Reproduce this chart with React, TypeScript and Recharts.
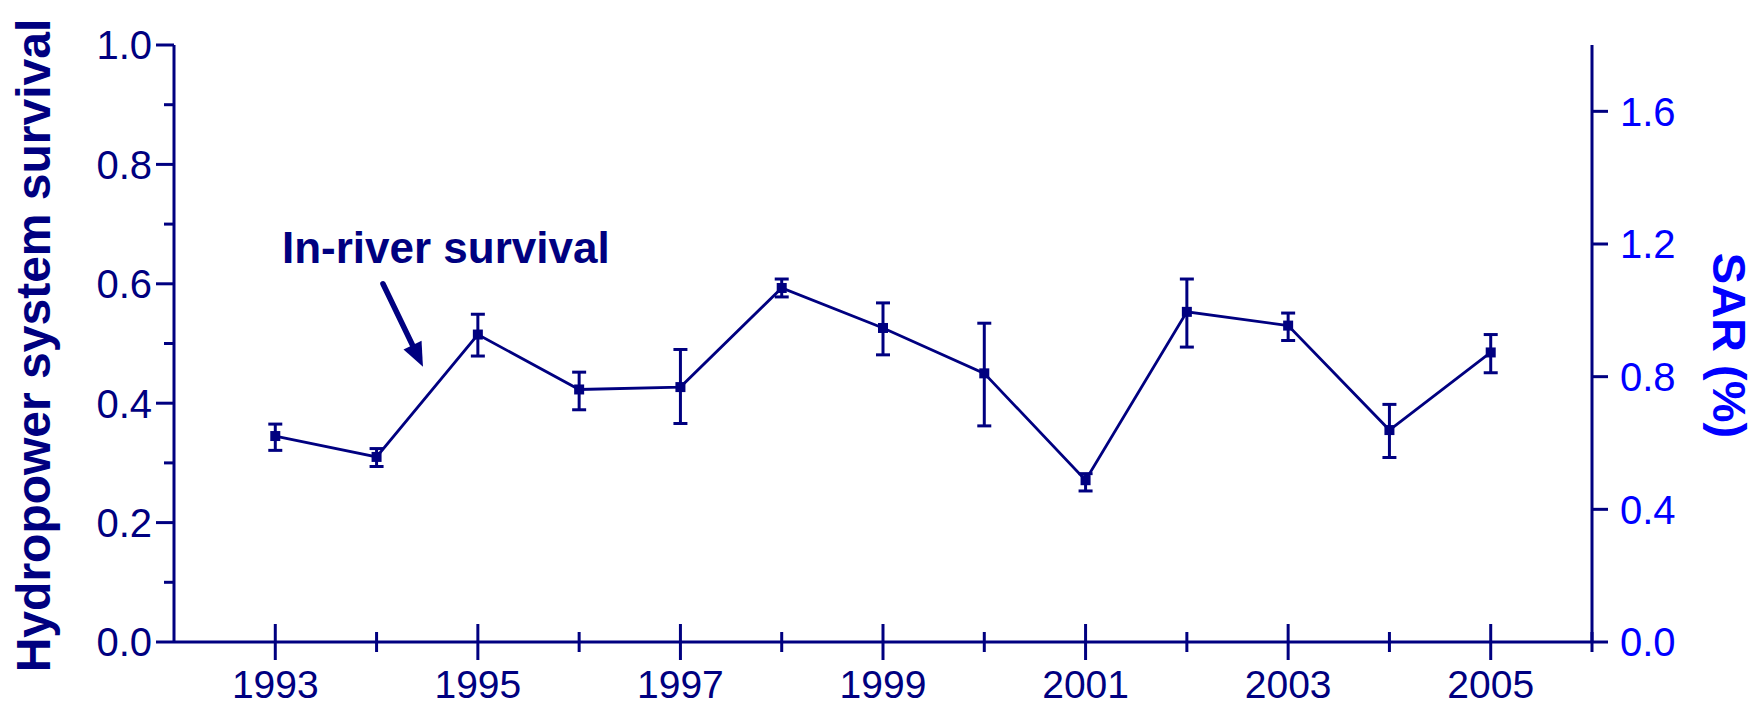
import React from 'react';
import {
  LineChart,
  Line,
  XAxis,
  YAxis,
  ErrorBar,
  ReferenceLine,
  ReferenceDot,
  Label,
} from 'recharts';

const years = [1993, 1994, 1995, 1996, 1997, 1998, 1999, 2000, 2001, 2002, 2003, 2004, 2005];
const survival = [0.345, 0.31, 0.515, 0.423, 0.427, 0.593, 0.526, 0.45, 0.271, 0.553, 0.53, 0.355, 0.485];
const survivalLow = [0.321, 0.294, 0.479, 0.389, 0.366, 0.578, 0.481, 0.362, 0.253, 0.494, 0.505, 0.309, 0.451];
const survivalHigh = [0.365, 0.324, 0.549, 0.452, 0.49, 0.608, 0.568, 0.534, 0.282, 0.608, 0.551, 0.398, 0.515];

const xTicks = [1993, 1994, 1995, 1996, 1997, 1998, 1999, 2000, 2001, 2002, 2003, 2004, 2005, 2006];
const leftTicks = [0, 0.1, 0.2, 0.3, 0.4, 0.5, 0.6, 0.7, 0.8, 0.9, 1.0];
const rightTicks = [0, 0.4, 0.8, 1.2, 1.6];

const annotationText = 'In-river survival';
const annotationPos = { x: 1993.066, y: 0.635 };
const arrowFrom = { x: 1994.063, y: 0.6 };
const arrowTo = { x: 1994.458, y: 0.461 };

const NAVY = '#000080';
const BLUE = '#0000FF';
const FONT = '"Liberation Sans", Arial, Helvetica, sans-serif';

const data = years.map((year, i) => ({
  year,
  survival: survival[i],
  err: [survival[i] - survivalLow[i], survivalHigh[i] - survival[i]],
}));

const XTick = (props: any) => {
  const { x, y, payload } = props;
  const v = payload.value;
  const major = v % 2 === 1;
  const len = major ? 18 : 10;
  return (
    <g>
      <line x1={x} x2={x} y1={y - len} y2={y + len} stroke={NAVY} strokeWidth={3} />
      {major && v <= 2005 ? (
        <text x={x} y={y + 56} textAnchor="middle" fill={NAVY} fontSize={39} fontFamily={FONT}>
          {v}
        </text>
      ) : null}
    </g>
  );
};

const LeftTick = (props: any) => {
  const { x, y, payload } = props;
  const v = payload.value;
  const major = Math.round(v * 10) % 2 === 0;
  const len = major ? 18 : 10;
  return (
    <g>
      <line x1={x - len} x2={x} y1={y} y2={y} stroke={NAVY} strokeWidth={3} />
      {major ? (
        <text x={x - 22} y={y} dy="0.36em" textAnchor="end" fill={NAVY} fontSize={40} fontFamily={FONT}>
          {v.toFixed(1)}
        </text>
      ) : null}
    </g>
  );
};

const RightTick = (props: any) => {
  const { x, y, payload } = props;
  const v = payload.value;
  return (
    <g>
      <line x1={x} x2={x + 16} y1={y} y2={y} stroke={NAVY} strokeWidth={3} />
      <text x={x + 28} y={y} dy="0.36em" textAnchor="start" fill={BLUE} fontSize={40} fontFamily={FONT}>
        {v.toFixed(1)}
      </text>
    </g>
  );
};

const SquareDot = (props: any) => {
  const { cx, cy } = props;
  if (cx == null || cy == null) return null;
  return <rect x={cx - 5} y={cy - 5} width={10} height={10} fill={NAVY} />;
};

const ArrowShape = (props: any) => {
  const { x1, y1, x2, y2 } = props;
  if ([x1, y1, x2, y2].some((v) => v == null || isNaN(v))) return null;
  const dx = x2 - x1;
  const dy = y2 - y1;
  const L = Math.sqrt(dx * dx + dy * dy);
  const ux = dx / L;
  const uy = dy / L;
  const headLen = 24;
  const headHalf = 10;
  const bx = x2 - ux * headLen;
  const by = y2 - uy * headLen;
  const px = -uy;
  const py = ux;
  return (
    <g>
      <line x1={x1} y1={y1} x2={bx + ux * 2} y2={by + uy * 2} stroke={NAVY} strokeWidth={5.5} strokeLinecap="round" />
      <polygon
        points={`${x2},${y2} ${bx + px * headHalf},${by + py * headHalf} ${bx - px * headHalf},${by - py * headHalf}`}
        fill={NAVY}
      />
    </g>
  );
};

const AnnotationShape = (props: any) => {
  const { cx, cy } = props;
  if (cx == null || cy == null) return null;
  return (
    <text x={cx} y={cy} fill={NAVY} fontSize={44} fontWeight="bold" fontFamily={FONT}>
      {annotationText}
    </text>
  );
};

const LeftTitle = (props: any) => {
  const vb = props.viewBox || { x: 0, y: 45, width: 174, height: 597 };
  const cx = vb.x + 33;
  const cy = vb.y + vb.height / 2 + 2;
  return (
    <text
      x={cx}
      y={cy}
      transform={`rotate(-90, ${cx}, ${cy})`}
      textAnchor="middle"
      dy="0.36em"
      fill={NAVY}
      fontSize={48}
      fontWeight="bold"
      fontFamily={FONT}
    >
      Hydropower system survival
    </text>
  );
};

const RightTitle = (props: any) => {
  const vb = props.viewBox || { x: 1592, y: 45, width: 167, height: 597 };
  const cx = vb.x + 138;
  const cy = vb.y + vb.height / 2 + 2;
  return (
    <text
      x={cx}
      y={cy}
      transform={`rotate(90, ${cx}, ${cy})`}
      textAnchor="middle"
      dy="0.36em"
      fill={BLUE}
      fontSize={47}
      fontWeight="bold"
      fontFamily={FONT}
    >
      SAR (%)
    </text>
  );
};

export default function App() {
  return (
    <div style={{ position: 'absolute', left: 0, top: 0, width: 1759, height: 708, background: '#fff' }}>
      <LineChart width={1759} height={708} data={data} margin={{ top: 45, right: 0, bottom: 0, left: 0 }}>
        <XAxis
          dataKey="year"
          type="number"
          domain={[1992, 2006]}
          ticks={xTicks}
          interval={0}
          height={66}
          tickSize={0}
          tickMargin={0}
          tickLine={false}
          axisLine={{ stroke: NAVY, strokeWidth: 3 }}
          tick={<XTick />}
          allowDataOverflow
        />
        <YAxis
          yAxisId="left"
          orientation="left"
          type="number"
          domain={[0, 1]}
          ticks={leftTicks}
          interval={0}
          width={174}
          tickSize={0}
          tickMargin={0}
          tickLine={false}
          axisLine={{ stroke: NAVY, strokeWidth: 3 }}
          tick={<LeftTick />}
          allowDataOverflow
        >
          <Label content={<LeftTitle />} />
        </YAxis>
        <YAxis
          yAxisId="right"
          orientation="right"
          type="number"
          domain={[0, 1.8]}
          ticks={rightTicks}
          interval={0}
          width={167}
          tickSize={0}
          tickMargin={0}
          tickLine={false}
          axisLine={{ stroke: NAVY, strokeWidth: 3 }}
          tick={<RightTick />}
          allowDataOverflow
        >
          <Label content={<RightTitle />} />
        </YAxis>
        <Line
          yAxisId="left"
          dataKey="survival"
          stroke={NAVY}
          strokeWidth={2.8}
          dot={<SquareDot />}
          activeDot={false}
          isAnimationActive={false}
        >
          <ErrorBar dataKey="err" direction="y" width={7} stroke={NAVY} strokeWidth={3} isAnimationActive={false} />
        </Line>
        <ReferenceLine
          yAxisId="left"
          segment={[arrowFrom, arrowTo]}
          shape={<ArrowShape />}
          ifOverflow="visible"
        />
        <ReferenceDot
          yAxisId="left"
          x={annotationPos.x}
          y={annotationPos.y}
          r={0}
          shape={<AnnotationShape />}
          ifOverflow="visible"
        />
      </LineChart>
    </div>
  );
}
